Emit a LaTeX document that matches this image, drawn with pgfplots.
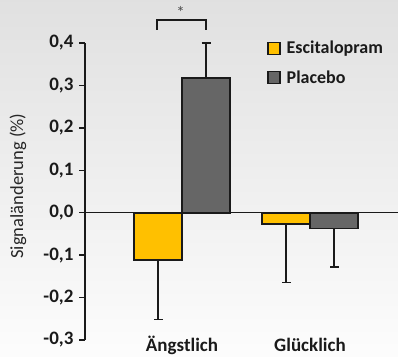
\documentclass[border=0pt]{standalone}
\usepackage{fontspec}
\setmainfont{Carlito}
\usepackage{pgfplots}
\pgfplotsset{compat=1.18}
\definecolor{esc}{HTML}{FFC000}
\definecolor{plac}{HTML}{666666}
\definecolor{edge}{HTML}{1A1A1A}
\begin{document}
\begin{tikzpicture}[x=1pt,y=1pt]
\shade[top color=black!12, bottom color=black!1] (0,0) rectangle (398,356);
\begin{axis}[
  at={(85pt,16pt)}, anchor=south west,
  scale only axis, width=313pt, height=297pt,
  xmin=0.2422, xmax=2.6875, ymin=-0.3, ymax=0.4,
  ybar=0pt, bar width=48pt,
  axis y line*=left, axis x line*=bottom,
  x axis line style={draw=none},
  y axis line style={line width=1.4pt, edge},
  xtick={1,2}, xticklabels={Ängstlich, Glücklich},
  xtick style={draw=none},
  xticklabel style={anchor=base, yshift=-5pt, font=\fontsize{19}{22}\selectfont\bfseries, text=edge},
  ytick={-0.3,-0.2,-0.1,0,0.1,0.2,0.3,0.4},
  ytick style={line width=1.4pt, edge},
  tick align=outside, major tick length=6pt,
  /pgf/number format/use comma,
  /pgf/number format/fixed,
  /pgf/number format/fixed zerofill,
  /pgf/number format/precision=1,
  /pgf/number format/assume math mode=true,
  yticklabel style={font=\fontsize{19}{22}\selectfont\bfseries, text=edge, xshift=-2pt},
  ylabel={Signaländerung (\%)},
  ylabel style={at={(axis description cs:-0.2140,0.5185)}, anchor=center, font=\fontsize{18.5}{22}\selectfont, text=black!85},
  clip=false,
  error bars/y dir=both, error bars/y explicit,
  error bars/error bar style={line width=1.4pt, edge},
  error bars/error mark options={mark size=4.5pt, line width=1.4pt, edge, rotate=90},
  legend style={at={(axis description cs:0.572,1.02)}, anchor=north west, draw=none, fill=none,
    font=\fontsize{18}{21}\selectfont\bfseries, row sep=11pt, text=edge},
  legend cell align=left,
  sq/.style={legend image code/.code={\draw[##1, line width=1.3pt, draw=edge] (0pt,-6pt) rectangle (12pt,6pt); \path (16pt,0pt);}},
]
\addplot[fill=esc, draw=edge, line width=1.6pt, sq] coordinates {
  (1,-0.111) += (0,0) -= (0,0.141)
  (2,-0.026) += (0,0) -= (0,0.139)
};
\addplot[fill=plac, draw=edge, line width=1.6pt, sq] coordinates {
  (1,0.318) += (0,0.082) -= (0,0)
  (2,-0.037) += (0,0) -= (0,0.091)
};
\legend{Escitalopram, Placebo}
\draw[line width=1.4pt, edge] (axis cs:0.2422,0) -- (axis cs:2.6875,0);
\draw[line width=1.3pt, edge] (axis cs:0.805,0.431) |- (axis cs:1.1875,0.454) -- (axis cs:1.1875,0.431);
\node[font=\fontsize{17}{17}\selectfont, text=black!70] at (axis cs:0.99,0.472) {*};
\end{axis}
\pgfresetboundingbox
\useasboundingbox (0,0) rectangle (398,356);
\end{tikzpicture}
\end{document}
